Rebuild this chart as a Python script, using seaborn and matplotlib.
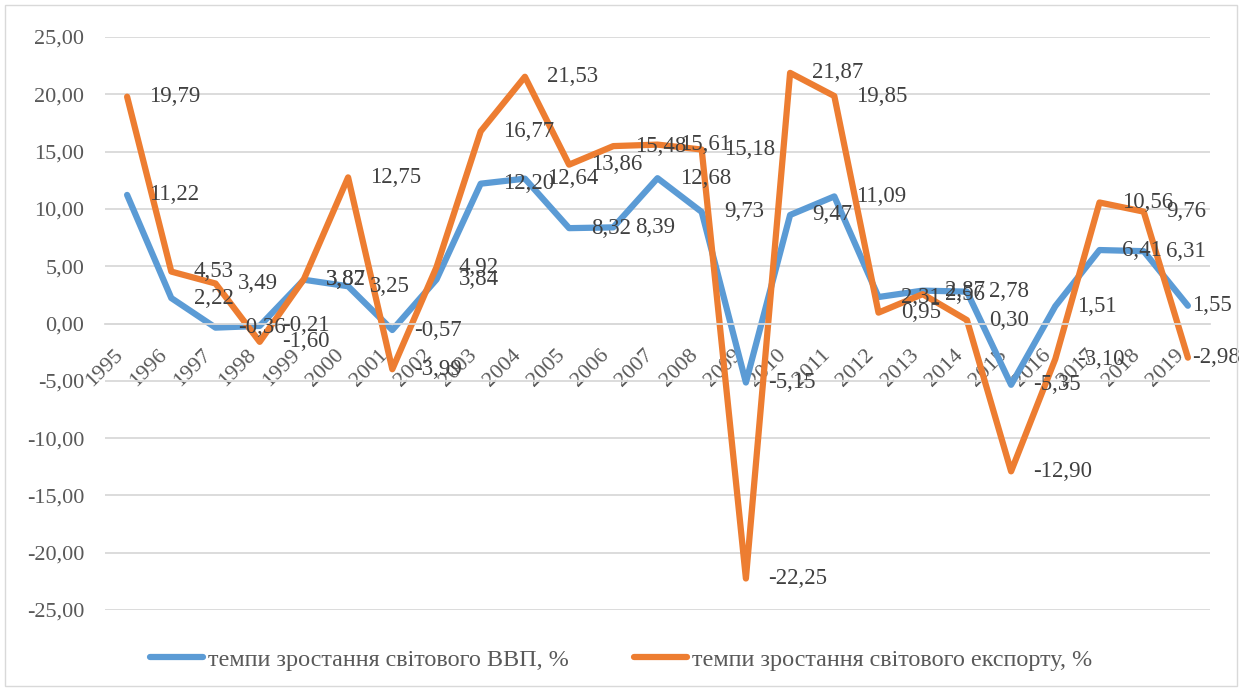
import pandas as pd
import seaborn as sns
import matplotlib.pyplot as plt
from matplotlib.patches import Rectangle

# -----------------------------
# Data
# -----------------------------

years = list(range(1995, 2020))

gdp_growth = [11.22, 2.22, -0.36, -0.21, 3.82, 3.25, -0.57, 3.84, 12.20, 12.64,
              8.32, 8.39, 12.68, 9.73, -5.15, 9.47, 11.09, 2.31, 2.87, 2.78,
              -5.35, 1.51, 6.41, 6.31, 1.55]

export_growth = [19.79, 4.53, 3.49, -1.60, 3.87, 12.75, -3.99, 4.92, 16.77, 21.53,
                 13.86, 15.48, 15.61, 15.18, -22.25, 21.87, 19.85, 0.95, 2.56, 0.30,
                 -12.90, -3.10, 10.56, 9.76, -2.98]

series_names = ["темпи зростання світового ВВП, %",
                "темпи зростання світового експорту, %"]

y_ticks = [-25, -20, -15, -10, -5, 0, 5, 10, 15, 20, 25]

colors = ["#5B9BD5", "#ED7D31"]

df = pd.concat([
    pd.DataFrame({"year": years, "value": gdp_growth, "series": series_names[0]}),
    pd.DataFrame({"year": years, "value": export_growth, "series": series_names[1]}),
])

# -----------------------------
# Setup
# -----------------------------

sns.set_theme(style="white")
plt.rcParams["font.family"] = ["Liberation Serif", "DejaVu Serif"]

fig = plt.figure(figsize=(12.42, 6.91), dpi=100)
ax = fig.add_axes([105 / 1242, 1 - 610 / 691, (1210 - 105) / 1242, (610 - 37) / 691])

sns.lineplot(data=df, x="year", y="value", hue="series", palette=colors,
             linewidth=4.5, ax=ax, sort=False)

handles, labels = ax.get_legend_handles_labels()
ax.get_legend().remove()

# data labels to the right of each point (last ones pushed inside the chart area)
for vals in [gdp_growth, export_growth]:
    for yr, v in zip(years, vals):
        dx = 16 if yr < years[-1] else 3
        ax.annotate(f"{v:.2f}".replace(".", ","), (yr, v), xytext=(dx, 0),
                    textcoords="offset points", ha="left", va="center",
                    fontsize=16.5, color="#404040", zorder=5)

# -----------------------------
# Axes styling
# -----------------------------

for side in ["top", "left", "right"]:
    ax.spines[side].set_visible(False)
ax.spines["bottom"].set_position(("data", 0))
ax.spines["bottom"].set_color("#D9D9D9")
ax.spines["bottom"].set_linewidth(1.3)

ax.set_xlim(1994.5, 2019.5)
ax.set_ylim(-25, 25)
ax.set_yticks(y_ticks)
ax.set_yticklabels([f"{t:.2f}".replace(".", ",") for t in y_ticks])
ax.set_xticks(years)
ax.set_xticklabels([str(y) for y in years], rotation=45, ha="right", va="top")

ax.tick_params(axis="y", length=0, pad=15, labelsize=16, labelcolor="#595959")
ax.tick_params(axis="x", length=0, pad=16, labelsize=16, labelcolor="#595959")

ax.yaxis.grid(True, color="#D9D9D9", linewidth=1.3)
ax.set_axisbelow(True)
ax.set_xlabel("")
ax.set_ylabel("")

fig.legend(handles, labels, loc="center", bbox_to_anchor=(0.5, 1 - 660 / 691),
           ncol=2, frameon=False, fontsize=17.4, labelcolor="#595959",
           handlelength=2.2, handletextpad=0.2, columnspacing=2.7)

fig.patches.append(Rectangle((5 / 1242, 5 / 691), 1232 / 1242, 681 / 691,
                             transform=fig.transFigure, fill=False,
                             edgecolor="#D9D9D9", linewidth=1))

plt.savefig("out.png", dpi=100)
plt.close()
